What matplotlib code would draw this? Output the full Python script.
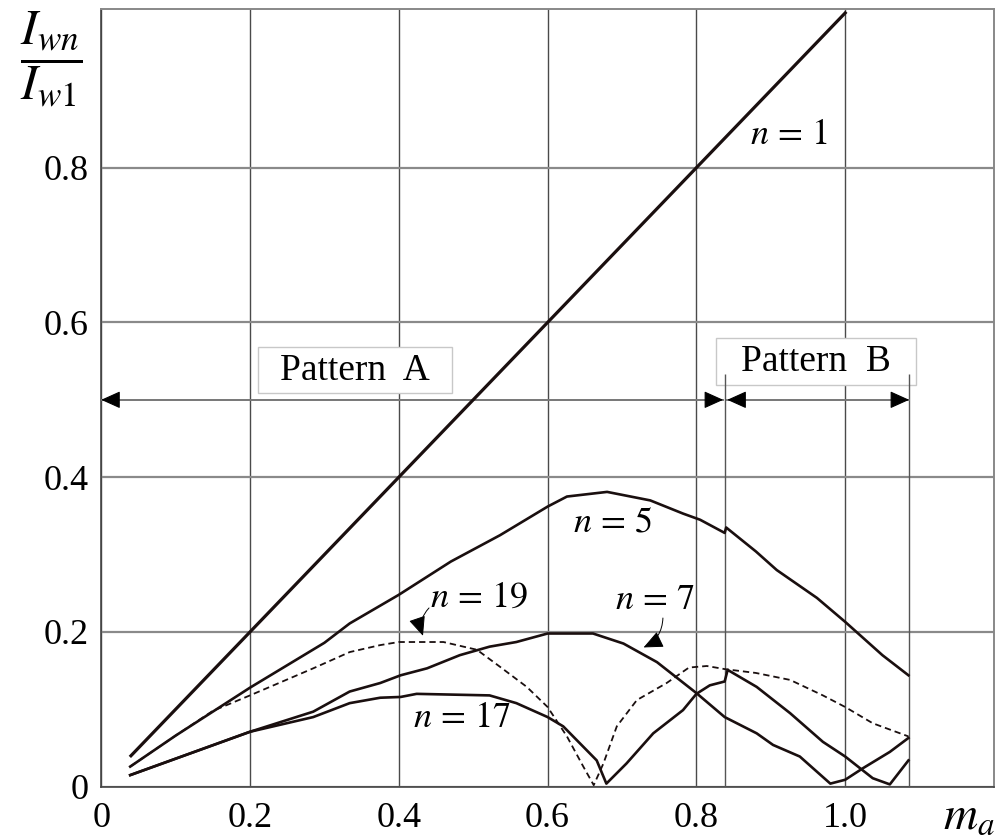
import numpy as np
import matplotlib
matplotlib.use("Agg")
import matplotlib.pyplot as plt
import matplotlib.patches as mpatches

plt.rcParams["font.family"] = ["Liberation Serif", "DejaVu Serif"]
plt.rcParams["mathtext.fontset"] = "stix"

# harmonic current ratio vs modulation index
x_n1 = [0.04, 1.0]
y_n1 = [0.04, 1.0]

x_n5 = [0.039, 0.1, 0.2, 0.3, 0.334, 0.40, 0.47, 0.536, 0.60, 0.626, 0.68,
        0.738, 0.782, 0.805, 0.838, 0.840, 0.88, 0.908, 0.962, 1.0, 1.05, 1.085]
y_n5 = [0.026, 0.066, 0.128, 0.186, 0.211, 0.248, 0.291, 0.325, 0.362, 0.375,
        0.381, 0.370, 0.353, 0.345, 0.328, 0.335, 0.304, 0.280, 0.244, 0.213,
        0.170, 0.144]

x_n7 = [0.039, 0.2, 0.285, 0.334, 0.375, 0.4025, 0.438, 0.482, 0.522, 0.558,
        0.60, 0.661, 0.702, 0.747, 0.80, 0.838, 0.881, 0.903, 0.939, 0.980,
        1.0, 1.024, 1.06, 1.085]
y_n7 = [0.015, 0.071, 0.097, 0.123, 0.134, 0.144, 0.153, 0.170, 0.181, 0.187,
        0.198, 0.198, 0.185, 0.161, 0.121, 0.090, 0.069, 0.054, 0.039, 0.004,
        0.009, 0.024, 0.045, 0.063]

x_n17 = [0.039, 0.2, 0.285, 0.334, 0.375, 0.4025, 0.424, 0.522, 0.558, 0.60,
         0.621, 0.666, 0.679, 0.706, 0.742, 0.782, 0.80, 0.818, 0.838, 0.842,
         0.881, 0.926, 0.970, 1.0, 1.037, 1.06, 1.085]
y_n17 = [0.015, 0.071, 0.090, 0.108, 0.115, 0.116, 0.120, 0.118, 0.108, 0.090,
         0.078, 0.034, 0.004, 0.030, 0.069, 0.099, 0.120, 0.131, 0.136, 0.151,
         0.129, 0.095, 0.058, 0.039, 0.011, 0.003, 0.034]

x_n19 = [0.039, 0.1, 0.15, 0.2, 0.285, 0.334, 0.375, 0.40, 0.46, 0.505, 0.536,
         0.572, 0.60, 0.626, 0.648, 0.662, 0.675, 0.693, 0.72, 0.76, 0.79,
         0.814, 0.838, 0.88, 0.926, 0.97, 1.0, 1.037, 1.085]
y_n19 = [0.026, 0.066, 0.098, 0.118, 0.153, 0.174, 0.183, 0.187, 0.187, 0.177,
         0.155, 0.129, 0.103, 0.065, 0.026, 0.002, 0.030, 0.078, 0.112, 0.134,
         0.154, 0.156, 0.152, 0.147, 0.138, 0.118, 0.103, 0.082, 0.065]

x_ticks = [0, 0.2, 0.4, 0.6, 0.8, 1.0]
x_ticklabels = ["0", "0.2", "0.4", "0.6", "0.8", "1.0"]
y_ticks = [0, 0.2, 0.4, 0.6, 0.8]
y_ticklabels = ["0", "0.2", "0.4", "0.6", "0.8"]

# pattern boundaries on the m_a axis
pat_a = (0.0, 0.836)
pat_b = (0.8385, 1.086)
pat_y = 0.5

ink = "#1a0f0f"

fig = plt.figure(figsize=(9.96, 8.38), dpi=100)
ax = fig.add_axes([0.1016, 0.0612, 0.8964, 0.928])
ax.set_xlim(0, 1.2)
ax.set_ylim(0, 1.005)

ax.set_xticks(x_ticks)
ax.set_xticklabels(x_ticklabels)
ax.set_yticks(y_ticks)
ax.set_yticklabels(y_ticklabels)
ax.tick_params(axis="both", length=0, labelsize=26)
ax.tick_params(axis="x", pad=11)
ax.tick_params(axis="y", pad=9)
ax.xaxis.grid(True, color="#4a4a4a", lw=1.0)
ax.yaxis.grid(True, color="#8a8a8a", lw=1.6)
ax.set_axisbelow(True)
for side in ["left", "bottom"]:
    ax.spines[side].set_color("#444444")
    ax.spines[side].set_linewidth(1.2)
for side in ["top", "right"]:
    ax.spines[side].set_color("#888888")
    ax.spines[side].set_linewidth(1.4)

ax.plot(x_n1, y_n1, color=ink, lw=2.3, zorder=4)
ax.plot(x_n5, y_n5, color=ink, lw=1.9, zorder=4)
ax.plot(x_n7, y_n7, color=ink, lw=1.9, zorder=4)
ax.plot(x_n17, y_n17, color=ink, lw=1.9, zorder=4)
ax.plot(x_n19, y_n19, color=ink, lw=1.3, ls=(0, (3.5, 2.2)), zorder=4)

# pattern ranges: boxes, boundary lines, double arrows
ax.add_patch(mpatches.Rectangle((0.2108, 0.5087), 0.2607, 0.0593, fc="white",
                                ec="#c8c8c8", lw=1.0, zorder=2))
ax.add_patch(mpatches.Rectangle((0.827, 0.519), 0.268, 0.061, fc="white",
                                ec="#c8c8c8", lw=1.0, zorder=2))
ax.text(0.341, 0.538, "Pattern  A", fontsize=27, ha="center", va="center", zorder=3)
ax.text(0.961, 0.549, "Pattern  B", fontsize=27, ha="center", va="center", zorder=3)
ax.vlines([pat_b[0], pat_b[1]], 0, 0.533, color="#555555", lw=1.0, zorder=3)

ax.plot(pat_a, [pat_y, pat_y], color="#777777", lw=1.4, zorder=3)
ax.plot([pat_b[0] + 0.003, pat_b[1]], [pat_y, pat_y], color="#777777", lw=1.4, zorder=3)
head = dict(arrowstyle="-|>,head_length=0.4,head_width=0.18", color="black",
            lw=0.8, mutation_scale=30, shrinkA=0, shrinkB=0)
for tip, tail in [(pat_a[0], pat_a[0] + 0.02), (pat_a[1], pat_a[1] - 0.02),
                  (pat_b[0] + 0.003, pat_b[0] + 0.023), (pat_b[1], pat_b[1] - 0.02)]:
    ax.annotate("", xy=(tip, pat_y), xytext=(tail, pat_y), arrowprops=head, zorder=5)

# curve labels
lab = dict(fontsize=26, ha="center", va="center", zorder=5)
ax.text(0.924, 0.841, r"$n\,=\,1$", **lab)
ax.text(0.688, 0.341, r"$n\,=\,5$", **lab)
ax.text(0.508, 0.243, r"$n\,=\,19$", **lab)
ax.text(0.744, 0.241, r"$n\,=\,7$", **lab)
ax.text(0.485, 0.088, r"$n\,=\,17$", **lab)

pointer = dict(arrowstyle="-|>,head_length=0.5,head_width=0.22", color="black",
               lw=0.7, mutation_scale=24, shrinkA=0, shrinkB=0)
ax.annotate("", xy=(0.4325, 0.195), xytext=(0.4406, 0.231),
            arrowprops=dict(pointer, connectionstyle="arc3,rad=0.3"), zorder=5)
ax.annotate("", xy=(0.729, 0.180), xytext=(0.755, 0.218),
            arrowprops=dict(pointer, connectionstyle="arc3,rad=-0.3"), zorder=5)

# axis labels
fig.text(0.051, 0.93, r"$\dfrac{I_{wn}}{I_{w1}}$", fontsize=36, ha="center", va="center")
fig.text(0.973, 0.025, r"$m_a$", fontsize=34, ha="center", va="center")

fig.savefig("out.png", dpi=100)
